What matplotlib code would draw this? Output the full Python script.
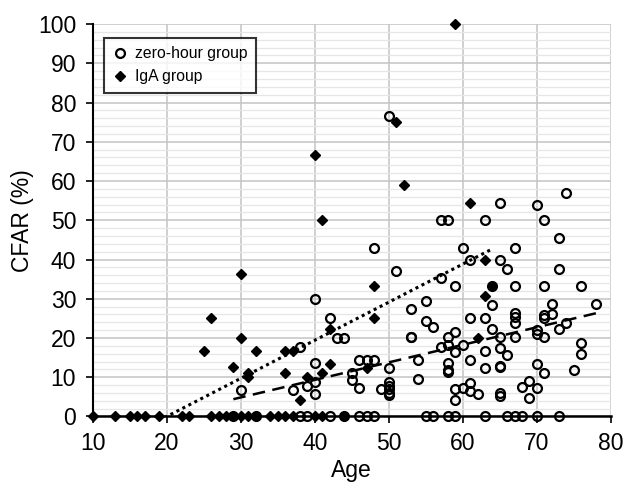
import numpy as np
import matplotlib
matplotlib.use("Agg")
import matplotlib.pyplot as plt
from matplotlib.ticker import MultipleLocator

plt.rcParams['font.family'] = ['Liberation Sans', 'DejaVu Sans']

# zero-hour group (open circles)
zero_age = [29, 32, 38, 39, 42, 44, 46, 47, 48, 55, 56, 58, 59, 63, 66, 67, 68, 70, 73,
            30, 37, 38, 39, 40, 40, 40, 40, 42, 43, 44, 45, 45, 46, 47, 48, 46, 48, 49,
            50, 50, 50, 50, 50, 50, 50, 51, 53, 53, 54, 53, 54, 55, 55, 56,
            57, 58, 57, 57, 58, 58, 58, 58, 58, 59, 59, 59, 59, 59,
            60, 60, 60, 61, 61, 61, 61, 61, 62, 63, 63, 63, 63,
            64, 64, 64, 65, 65, 65, 65, 65, 65, 65, 65, 66, 66,
            67, 67, 67, 67, 67, 67, 68, 69, 69, 70, 70, 70, 70, 70,
            71, 71, 71, 71, 71, 71, 72, 72, 73, 73, 73, 74, 74, 75, 76, 76, 76, 78]
zero_cfar = [0] * 19 + [
    6.7, 6.8, 17.8, 7.8, 30, 13.7, 8.7, 5.8, 25, 20, 20, 11.2, 9.2, 14.3, 14.3, 14.3, 7.2, 43, 7,
    76.5, 12.4, 8.8, 7.8, 6.9, 6.1, 5.4, 37, 27.4, 20.2, 9.5, 20.2, 14.4, 29.4, 24.4, 22.8,
    50, 50, 35.2, 17.7, 20.2, 18.3, 13.6, 11.8, 11.3, 33.3, 21.6, 16.5, 6.9, 4.3,
    43, 18.3, 7.2, 40, 25, 14.3, 8.4, 6.5, 5.7, 50, 25, 16.6, 12.4,
    28.5, 22.3, 33.3, 54.5, 40, 20.2, 17.5, 12.9, 12.5, 5.9, 5.1, 37.5, 15.6,
    43, 33.3, 26.4, 25.3, 23.7, 20.2, 7.4, 9.1, 4.7, 54, 22, 21, 13.3, 7.2,
    50, 33.3, 25.8, 25.2, 20.2, 11.2, 28.6, 26.2, 45.5, 37.5, 22.4, 57, 23.9, 11.9, 33.3, 18.6, 15.8, 28.6]

# IgA group (filled diamonds)
iga_age = [10, 13, 15, 16, 17, 19, 22, 23, 26, 27, 28, 29, 30, 31, 32, 34, 35, 36, 37, 40, 41, 44,
           25, 26, 29, 30, 30, 31, 31, 32, 36, 37, 36, 38, 39, 40, 41, 41, 42, 42,
           47, 48, 48, 51, 52, 59, 61, 62, 63, 63, 64]
iga_cfar = [0] * 22 + [
    16.6, 25, 12.5, 36.3, 20, 11, 10, 16.6, 16.6, 16.6, 11, 4.3, 10, 66.7, 50, 11.2, 22.2, 13.3,
    12.4, 33.2, 25, 75, 59, 100, 54.5, 20, 40, 30.7, 33.3]

# linear trend lines as they appear in the chart
iga_trend_x = [10, 64]
iga_trend_y = [-9.7, 42.7]
zero_trend_x = [29, 78]
zero_trend_y = [4.4, 26.3]

fig = plt.figure(figsize=(6.27, 4.82), dpi=100)
ax = fig.add_axes([0.148, 0.136, 0.826, 0.814])

ax.plot(zero_age, zero_cfar, linestyle='none', marker='o', markersize=6.4,
        markerfacecolor='none', markeredgecolor='black', markeredgewidth=1.6,
        label='zero-hour group', clip_on=False, zorder=4)
ax.plot(iga_age, iga_cfar, linestyle='none', marker='D', markersize=5.5,
        color='black', label='IgA group', clip_on=False, zorder=5)

ax.plot(iga_trend_x, iga_trend_y, color='black', linestyle=(0, (1, 1.2)), linewidth=2.2, zorder=3)
ax.plot(zero_trend_x, zero_trend_y, color='black', linestyle=(0, (5, 3)), linewidth=1.8, zorder=3)

ax.set_xlim(10, 80)
ax.set_ylim(0, 100)
ax.xaxis.set_major_locator(MultipleLocator(10))
ax.yaxis.set_major_locator(MultipleLocator(10))
ax.yaxis.set_minor_locator(MultipleLocator(2))

ax.grid(True, which='major', color='#c4c4c4', linewidth=1.1, zorder=0)
ax.grid(True, which='minor', axis='y', color='#e6e6e6', linewidth=0.9, zorder=0)
ax.set_axisbelow(True)

for s in ['top', 'right']:
    ax.spines[s].set_visible(False)
ax.spines['left'].set_linewidth(1.5)
ax.spines['bottom'].set_linewidth(1.8)
ax.spines['left'].set_zorder(2)
ax.spines['bottom'].set_zorder(2)

ax.tick_params(axis='both', which='major', direction='out', length=5, width=1.2,
               labelsize=16.5)
ax.tick_params(axis='x', which='major', pad=6)
ax.tick_params(axis='y', which='major', pad=7)
ax.tick_params(axis='y', which='minor', length=0)

ax.set_xlabel('Age', fontsize=16.5, labelpad=3)
ax.set_ylabel('CFAR (%)', fontsize=16.5, labelpad=3)

leg = ax.legend(loc='upper left', bbox_to_anchor=(0.006, 0.985), fontsize=11.3,
                frameon=True, fancybox=False, handletextpad=0.45,
                handlelength=1.0, borderpad=0.55, labelspacing=0.5)
leg.get_frame().set_edgecolor('black')
leg.get_frame().set_linewidth(1.5)

fig.savefig('out.png', dpi=100)
